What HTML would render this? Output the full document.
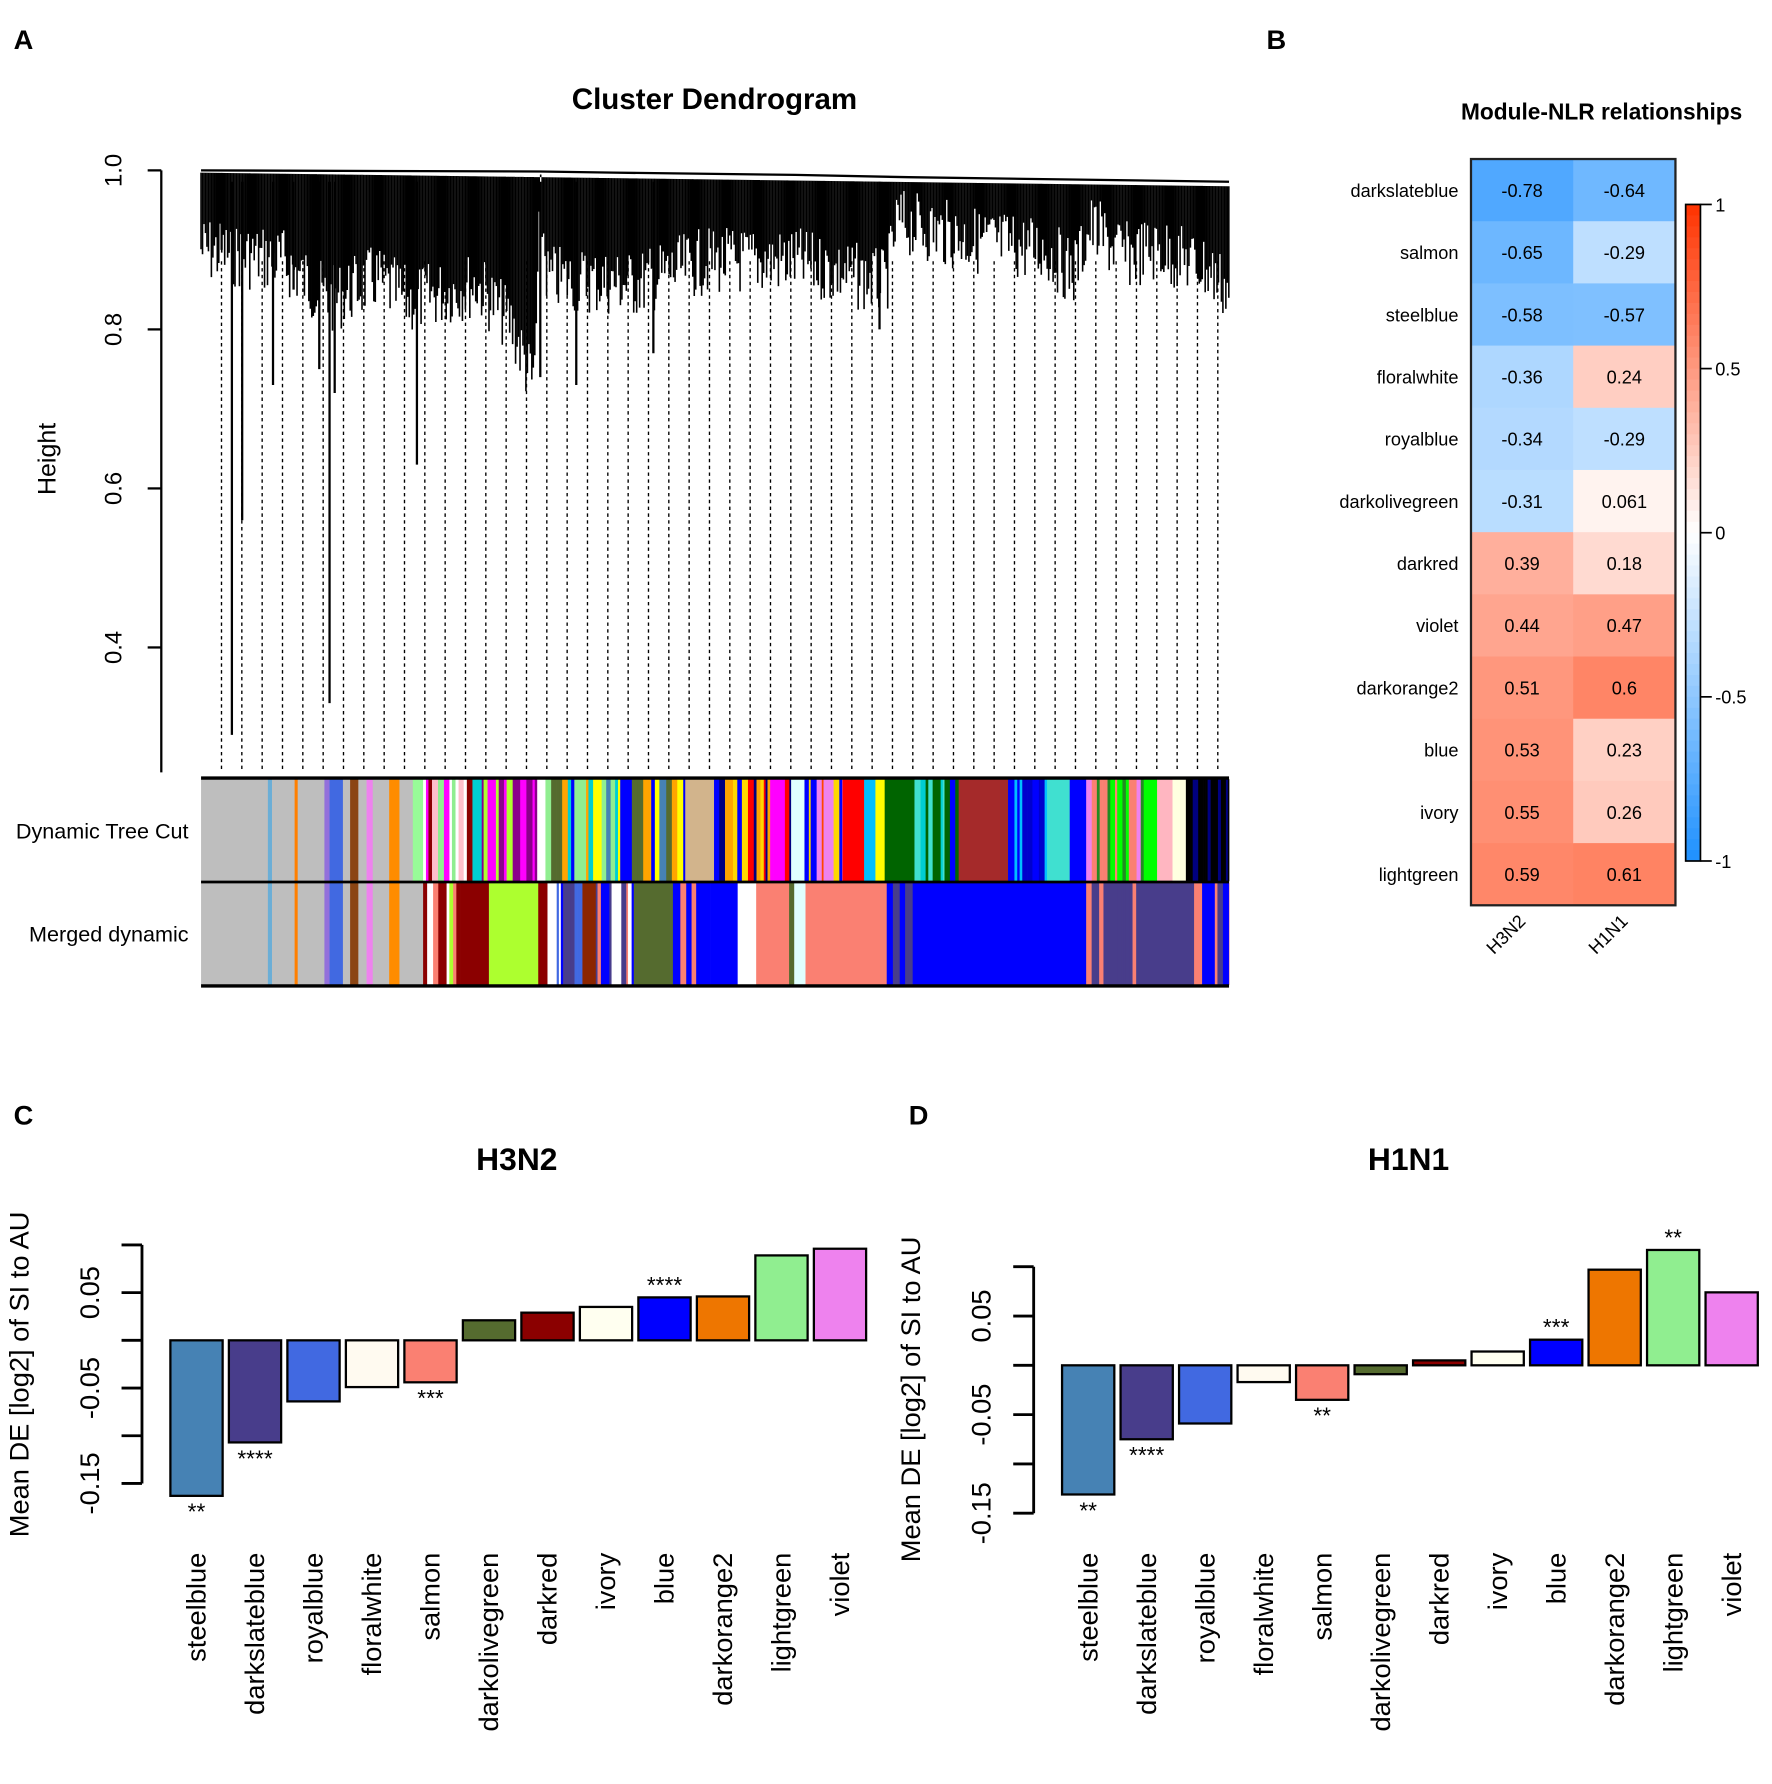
<!DOCTYPE html>
<html><head><meta charset="utf-8">
<style>
html,body{margin:0;padding:0;background:#fff;}
svg{display:block;font-family:"Liberation Sans",Arial,sans-serif;}
</style></head>
<body>
<svg id="fig" width="1772" height="1784" viewBox="0 0 1560 1570.6" preserveAspectRatio="none" xmlns="http://www.w3.org/2000/svg">
<g id="gA"></g>
<g id="gB"></g>
<g id="gC"></g>
<g id="gD"></g>
</svg>
<script>
// ---------- data ----------
const modules = ["steelblue","darkslateblue","royalblue","floralwhite","salmon","darkolivegreen","darkred","ivory","blue","darkorange2","lightgreen","violet"];
const barColors = ["#4682B4","#483D8B","#4169E1","#FFFAF0","#FA8072","#556B2F","#8B0000","#FFFFF0","#0000FF","#EE7600","#90EE90","#EE82EE"];
const h3n2Values = [-0.163,-0.107,-0.064,-0.049,-0.044,0.021,0.029,0.035,0.045,0.046,0.089,0.096];
const h3n2Stars = ["**","****","","","***","","","","****","","",""];
const h1n1Values = [-0.131,-0.075,-0.059,-0.017,-0.035,-0.009,0.005,0.014,0.026,0.097,0.117,0.074];
const h1n1Stars = ["**","****","","","**","","","","***","","**",""];
const barTickValues = [0.1,0.05,0,-0.05,-0.1,-0.15];
const barTickLabels = ["","0.05","","-0.05","","-0.15"];

const heatRows = ["darkslateblue","salmon","steelblue","floralwhite","royalblue","darkolivegreen","darkred","violet","darkorange2","blue","ivory","lightgreen"];
const heatCols = ["H3N2","H1N1"];
const heatH3N2 = [-0.78,-0.65,-0.58,-0.36,-0.34,-0.31,0.39,0.44,0.51,0.53,0.55,0.59];
const heatH1N1 = [-0.64,-0.29,-0.57,0.24,-0.29,0.061,0.18,0.47,0.6,0.23,0.26,0.61];
const heatLabelsH3N2 = ["-0.78","-0.65","-0.58","-0.36","-0.34","-0.31","0.39","0.44","0.51","0.53","0.55","0.59"];
const heatLabelsH1N1 = ["-0.64","-0.29","-0.57","0.24","-0.29","0.061","0.18","0.47","0.6","0.23","0.26","0.61"];
const cbarTicks = [1,0.5,0,-0.5,-1];
const cbarLabels = ["1","0.5","0","-0.5","-1"];

const dendroTicks = [1.0,0.8,0.6,0.4];
const dendroTickLabels = ["1.0","0.8","0.6","0.4"];
const longBranchPos = [0.02,0.03,0.04,0.07,0.09,0.115,0.125,0.13,0.21,0.33,0.365,0.44,0.66];
const longBranchHeight = [0.9,0.29,0.56,0.73,0.85,0.75,0.33,0.72,0.63,0.74,0.73,0.77,0.8];

const dynSegs = [[0,.065,"#bebebe"],[.065,.069,"#6baed6"],[.069,.091,"#bebebe"],[.091,.094,"#ff7f00"],[.094,.12,"#bebebe"],[.12,.125,"#9370DB"],[.125,.138,"#4169E1"],[.138,.145,"#bebebe"],[.145,.153,"#8B4513"],[.153,.161,"#bebebe"],[.161,.167,"#EE82EE"],[.167,.183,"#bebebe"],[.183,.193,"#FF8C00"],[.193,.206,"#bebebe"],[.206,.216,"#98FB98"],[.216,.264,"mix:#FFC0CB,#fff,#ff00ff,#8B0000,#90EE90"],[.264,.273,"#00CED1"],[.273,.327,"mix:#ff00ff,#ADFF2F,#8B008B,#ff00ff"],[.327,.335,"#ffffff"],[.335,.471,"mix:#0000ff,#4682B4,#90EE90,#556B2F,#FFA500,#00CED1,#ffff00"],[.471,.499,"#D2B48C"],[.499,.574,"mix:#0000ff,#FFD700,#FF0000,#000080,#FFA500,#ff00ff"],[.574,.587,"#E0FFFF"],[.587,.624,"mix:#FF4500,#FFD700,#0000ff,#EE82EE"],[.624,.645,"#FF0000"],[.645,.656,"#00BFFF"],[.656,.665,"#FFFF00"],[.665,.694,"#006400"],[.694,.737,"mix:#40E0D0,#0000ff,#006400,#00CED1"],[.737,.785,"#A52A2A"],[.785,.823,"mix:#0000ff,#00BFFF,#0000cd"],[.823,.845,"#40E0D0"],[.845,.861,"#0000ff"],[.861,.917,"mix:#00ff00,#FA8072,#EE82EE,#228B22"],[.917,.93,"#00ff00"],[.93,.945,"#FFB6C1"],[.945,.958,"#FFFFE0"],[.958,1,"mix:#000000,#000080,#000000"]];
const mrgSegs = [[0,.065,"#bebebe"],[.065,.069,"#6baed6"],[.069,.091,"#bebebe"],[.091,.094,"#ff7f00"],[.094,.12,"#bebebe"],[.12,.125,"#9370DB"],[.125,.138,"#4169E1"],[.138,.145,"#bebebe"],[.145,.153,"#8B4513"],[.153,.161,"#bebebe"],[.161,.167,"#EE82EE"],[.167,.183,"#bebebe"],[.183,.193,"#FF8C00"],[.193,.216,"#bebebe"],[.216,.252,"mix:#8B0000,#98FB98,#fff,#ADFF2F,#FA8072"],[.252,.28,"#8B0000"],[.28,.328,"#ADFF2F"],[.328,.337,"#8B0000"],[.337,.371,"mix:#0000ff,#fff,#4169E1,#483D8B"],[.371,.384,"#8B2500"],[.384,.421,"mix:#0000ff,#483D8B,#FA8072,#fff"],[.421,.459,"#556B2F"],[.459,.522,"mix:#0000ff,#0000ff,#FA8072,#0000ff"],[.522,.54,"#ffffff"],[.54,.572,"#FA8072"],[.572,.577,"#556B2F"],[.577,.588,"#E0FFFF"],[.588,.667,"#FA8072"],[.667,.695,"mix:#0000ff,#483D8B,#0000ff"],[.695,.861,"#0000ff"],[.861,.91,"mix:#FA8072,#483D8B,#483D8B"],[.91,.966,"#483D8B"],[.966,1,"mix:#FA8072,#483D8B,#0000ff"]];

// ---------- helpers ----------
const NS="http://www.w3.org/2000/svg";
function mk(parent,tag,attrs,text){const e=document.createElementNS(NS,tag);for(const k in attrs)e.setAttribute(k,attrs[k]);if(text!==undefined)e.textContent=text;parent.appendChild(e);return e;}
let seed=7;function rnd(){seed=(seed*9301+49297)%233280;return seed/233280;}
const fig=document.getElementById('fig');

[["A",12,43],["B",1115,43],["C",12,990],["D",800,990]].forEach(p=>{
  const t=mk(fig,'text',{x:p[1],y:p[2],'font-size':24,'font-weight':'bold'},p[0]);
  
  
});

// ---------- Panel A ----------
const gA=document.getElementById('gA');
const dx0=177,dx1=1082;
const hY=v=>150+(1.0-v)*700;
let t=mk(gA,'text',{x:629,y:96,'font-size':26,'font-weight':'bold','text-anchor':'middle'},"Cluster Dendrogram");

t=mk(gA,'text',{x:0,y:0,'font-size':22,'text-anchor':'middle',transform:'translate(49,404) rotate(-90)'},"Height");

let ax=mk(gA,'line',{x1:142,y1:hY(1.0),x2:142,y2:680,stroke:'#000','stroke-width':2});

dendroTicks.forEach((v,i)=>{
  mk(gA,'line',{x1:130,y1:hY(v),x2:142,y2:hY(v),stroke:'#000','stroke-width':2});
  const l=mk(gA,'text',{x:0,y:0,'font-size':21,'text-anchor':'middle',transform:`translate(107,${hY(v)}) rotate(-90)`},dendroTickLabels[i]);
  
});
for(let x=195;x<=1082;x+=17.9){mk(gA,'line',{x1:x,y1:230,x2:x,y2:680,stroke:'#000','stroke-width':1.2,'stroke-dasharray':'3,3'});}
const env=[[177,205],[250,215],[290,250],[330,230],[360,250],[420,235],[450,270],[470,325],[476,165],[482,230],[560,235],[620,215],[700,215],[740,225],[780,235],[790,180],[850,195],[920,205],[945,225],[960,185],[990,210],[1020,205],[1060,220],[1082,240]];
const topY=x=>152+(x-dx0)/(dx1-dx0)*12;
for(let x=dx0;x<=dx1;x+=1.3){
  let k=0;while(k<env.length-2&&env[k+1][0]<x)k++;
  const a=env[k],b=env[k+1];const f=Math.min(1,Math.max(0,(x-a[0])/(b[0]-a[0])));
  const base=a[1]+(b[1]-a[1])*f;
  const y2=base-15+rnd()*60;
  mk(gA,'line',{x1:x,y1:topY(x),x2:x,y2:y2,stroke:'#000','stroke-width':1.4});
}
mk(gA,'polyline',{points:`177,150 475,151 540,152 700,154 800,156 1082,160`,fill:'none',stroke:'#000','stroke-width':2});
longBranchPos.forEach((p,i)=>{
  const x=dx0+p*(dx1-dx0);
  const b=mk(gA,'line',{x1:x,y1:160,x2:x,y2:hY(longBranchHeight[i]),stroke:'#000','stroke-width':2});
  
});
function drawBar(segs,y,h,name){
  const g=mk(gA,'g',{});
  segs.forEach(s=>{
    const xa=dx0+s[0]*(dx1-dx0),xb=dx0+s[1]*(dx1-dx0);
    if(s[2].startsWith('mix:')){
      const cols=s[2].slice(4).split(',');let x=xa,i=0;
      while(x<xb){const w=Math.min(xb-x,1.5+rnd()*4);mk(g,'rect',{x:x,y:y,width:w+0.3,height:h,fill:cols[(i+Math.floor(rnd()*3))%cols.length]});x+=w;i++;}
    }else mk(g,'rect',{x:xa,y:y,width:xb-xa+0.3,height:h,fill:s[2]});
  });
}
drawBar(dynSegs,686,90,'dynamic-tree-cut-bar');
drawBar(mrgSegs,777,90,'merged-dynamic-bar');
mk(gA,'line',{x1:177,y1:685,x2:1082,y2:685,stroke:'#000','stroke-width':3});
mk(gA,'line',{x1:177,y1:776.5,x2:1082,y2:776.5,stroke:'#000','stroke-width':2.5});
mk(gA,'line',{x1:177,y1:868,x2:1082,y2:868,stroke:'#000','stroke-width':3});
t=mk(gA,'text',{x:166,y:738,'font-size':19,'text-anchor':'end'},"Dynamic Tree Cut");

t=mk(gA,'text',{x:166,y:829,'font-size':19,'text-anchor':'end'},"Merged dynamic");


// ---------- Panel B ----------
const gB=document.getElementById('gB');
const hx0=1295,hy0=140,cw=90,rh=(797-140)/12;
function heatColor(v){
  const a=Math.abs(v);
  if(v<0){return `rgb(${Math.round(255-(255-30)*a)},${Math.round(255-(255-144)*a)},255)`;}
  else{return `rgb(255,${Math.round(255-(255-51)*a)},${Math.round(255-255*a)})`;}
}
t=mk(gB,'text',{x:1410,y:105,'font-size':20,'font-weight':'bold','text-anchor':'middle'},"Module-NLR relationships");

[heatH3N2,heatH1N1].forEach((col,ci)=>{
  const labs=ci===0?heatLabelsH3N2:heatLabelsH1N1;
  col.forEach((v,ri)=>{
    const r=mk(gB,'rect',{x:hx0+ci*cw,y:hy0+ri*rh,width:cw+0.5,height:rh+0.5,fill:heatColor(v)});
    
    const l=mk(gB,'text',{x:hx0+ci*cw+cw/2,y:hy0+ri*rh+rh/2+6,'font-size':16,'text-anchor':'middle'},labs[ri]);
    
  });
});
mk(gB,'rect',{x:hx0,y:hy0,width:cw*2,height:rh*12,fill:'none',stroke:'#222','stroke-width':2});
heatRows.forEach((n,ri)=>{
  const l=mk(gB,'text',{x:1284,y:hy0+ri*rh+rh/2+6,'font-size':16,'text-anchor':'end'},n);
  
});
heatCols.forEach((n,ci)=>{
  const cx=hx0+ci*cw+cw/2+4;
  const l=mk(gB,'text',{x:0,y:0,'font-size':16,'text-anchor':'end',transform:`translate(${cx},${812}) rotate(-45)`},n);
  
});
const cbY=v=>469-v*289;
for(let i=0;i<60;i++){
  const v1=1-i/30,v2=1-(i+1)/30;
  mk(gB,'rect',{x:1484,y:cbY(v1),width:13,height:cbY(v2)-cbY(v1)+0.5,fill:heatColor((v1+v2)/2)});
}
let cb=mk(gB,'rect',{x:1484,y:cbY(1),width:13,height:cbY(-1)-cbY(1),fill:'none',stroke:'#000','stroke-width':1.5});

cbarTicks.forEach((v,i)=>{
  mk(gB,'line',{x1:1497,y1:cbY(v),x2:1507,y2:cbY(v),stroke:'#000','stroke-width':1.5});
  const l=mk(gB,'text',{x:1510,y:cbY(v)+6,'font-size':16},cbarLabels[i]);
  
});

// ---------- Panels C & D ----------
function barPanel(g,vals,stars,o){
  const y=v=>o.zero-v*o.scale;
  let tt=mk(g,'text',{x:o.titleX,y:1030,'font-size':28,'font-weight':'bold','text-anchor':'middle'},o.title);
  
  tt=mk(g,'text',{x:0,y:0,'font-size':24,'text-anchor':'middle',transform:`translate(${o.axX-100},${o.zero+30}) rotate(-90)`},"Mean DE [log2] of SI to AU");
  
  const a=mk(g,'line',{x1:o.axX,y1:y(barTickValues[0]),x2:o.axX,y2:y(barTickValues[barTickValues.length-1]),stroke:'#000','stroke-width':2.5});
  
  barTickValues.forEach((v,i)=>{
    mk(g,'line',{x1:o.axX-18,y1:y(v),x2:o.axX,y2:y(v),stroke:'#000','stroke-width':2.5});
    if(barTickLabels[i]){const l=mk(g,'text',{x:0,y:0,'font-size':24,'text-anchor':'middle',transform:`translate(${o.axX-38},${y(v)}) rotate(-90)`},barTickLabels[i]);
    }
  });
  vals.forEach((v,i)=>{
    const x=o.x0+i*o.step;
    const top=Math.min(y(v),y(0)),h=Math.abs(y(v)-y(0));
    const r=mk(g,'rect',{x:x,y:top,width:o.w,height:Math.max(h,1),fill:barColors[i],stroke:'#000','stroke-width':2});
    
    if(stars[i]){
      const sy=v<0?y(v)+21:y(v)-4;
      const s=mk(g,'text',{x:x+o.w/2,y:sy,'font-size':20,'text-anchor':'middle'},stars[i]);
      
    }
    const l=mk(g,'text',{x:0,y:0,'font-size':24,'text-anchor':'end',transform:`translate(${x+o.w/2+8},1367) rotate(-90)`},modules[i]);
    
  });
}
barPanel(document.getElementById('gC'),h3n2Values,h3n2Stars,{zero:1180,scale:840,axX:125,x0:150,step:51.5,w:46,title:"H3N2",titleX:455});
barPanel(document.getElementById('gD'),h1n1Values,h1n1Stars,{zero:1202,scale:868,axX:910,x0:935,step:51.5,w:46,title:"H1N1",titleX:1240});
</script>
</body></html>
